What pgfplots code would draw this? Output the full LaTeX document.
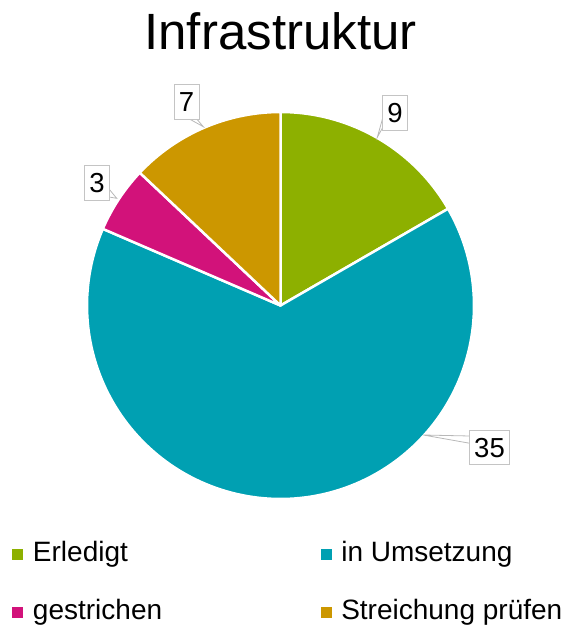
\documentclass[border=0pt]{standalone}
\usepackage{pgfplots}
\pgfplotsset{compat=1.18}
\usepackage{fontspec}
\setmainfont{Liberation Sans}
\definecolor{cA}{HTML}{8DB000}
\definecolor{cB}{HTML}{00A0B2}
\definecolor{cC}{HTML}{D2127A}
\definecolor{cD}{HTML}{CC9700}
\definecolor{boxgray}{HTML}{C4C4C4}
\definecolor{ptgray}{HTML}{B8B8B8}
\begin{document}
\begin{tikzpicture}
% slice values
\def\vA{9}\def\vB{35}\def\vC{3}\def\vD{7}
\pgfmathsetmacro\tot{\vA+\vB+\vC+\vD}
\pgfmathsetmacro\aA{90}
\pgfmathsetmacro\aB{90-360*\vA/\tot}
\pgfmathsetmacro\aC{\aB-360*\vB/\tot}
\pgfmathsetmacro\aD{\aC-360*\vC/\tot}
\pgfmathsetmacro\aE{\aD-360*\vD/\tot}
\def\cx{280.5}\def\cy{305.5}\def\r{193.5}
\begin{axis}[
  scale only axis, width=572bp, height=631bp,
  xmin=0, xmax=572, ymin=0, ymax=631, y dir=reverse,
  hide axis, clip=false,
  legend columns=2, legend cell align=left,
  legend image code/.code={\fill[#1, draw=none] (0bp,-5.8bp) rectangle (11.6bp,5.8bp);},
  legend style={draw=none, fill=none, inner sep=0pt,
    at={(axis cs:11.7,541)}, anchor=north west,
    font=\fontsize{28bp}{33bp}\selectfont,
    nodes={inner sep=0pt, text height=20.5bp, text depth=6bp},
    row sep=31.5bp,
    /tikz/column 1/.style={column sep=9.5bp},
    /tikz/column 2/.style={column sep=158.5bp},
    /tikz/column 3/.style={column sep=9bp}},
]
\addplot[fill=cA, draw=white, line width=2.5bp, line join=round, domain=\aB:\aA, samples=60, variable=\t]
  ({\cx+\r*cos(\t)}, {\cy-\r*sin(\t)}) -- (axis cs:\cx,\cy) -- cycle;
\addlegendentry{Erledigt}
\addplot[fill=cB, draw=white, line width=2.5bp, line join=round, domain=\aC:\aB, samples=150, variable=\t]
  ({\cx+\r*cos(\t)}, {\cy-\r*sin(\t)}) -- (axis cs:\cx,\cy) -- cycle;
\addlegendentry{in Umsetzung}
\addplot[fill=cC, draw=white, line width=2.5bp, line join=round, domain=\aD:\aC, samples=30, variable=\t]
  ({\cx+\r*cos(\t)}, {\cy-\r*sin(\t)}) -- (axis cs:\cx,\cy) -- cycle;
\addlegendentry{gestrichen}
\addplot[fill=cD, draw=white, line width=2.5bp, line join=round, domain=\aE:\aD, samples=40, variable=\t]
  ({\cx+\r*cos(\t)}, {\cy-\r*sin(\t)}) -- (axis cs:\cx,\cy) -- cycle;
\addlegendentry{Streichung prüfen}
% callout pointers
\addplot[forget plot, draw=ptgray, line width=0.8bp] coordinates {(383,117) (377.3,137.3) (383,127)};
\addplot[forget plot, draw=ptgray, line width=0.8bp] coordinates {(470,436) (423.3,435) (470,443.3)};
\addplot[forget plot, draw=ptgray, line width=0.8bp] coordinates {(109,189) (116.7,198.3) (109,197)};
\addplot[forget plot, draw=ptgray, line width=0.8bp] coordinates {(190,119.3) (203.3,126.7) (197,119.3)};
\tikzset{lbl/.style={draw=boxgray, fill=white, line width=0.8bp, inner xsep=4.75bp, inner ysep=0pt,
  minimum height=34.5bp, text height=19.5bp, text depth=0pt, font=\fontsize{27.5bp}{32bp}\selectfont}}
\node[lbl] at (axis cs:395,113) {\vA};
\node[lbl] at (axis cs:489.5,447.5) {\vB};
\node[lbl] at (axis cs:97,183) {\vC};
\node[lbl] at (axis cs:186.5,102) {\vD};
\node[anchor=base, inner sep=0pt, font=\fontsize{51bp}{60bp}\selectfont] at (axis cs:280.5,50) {Infrastruktur};
\end{axis}
\pgfresetboundingbox
\useasboundingbox (0,0) rectangle (572bp,631bp);
\end{tikzpicture}
\end{document}
